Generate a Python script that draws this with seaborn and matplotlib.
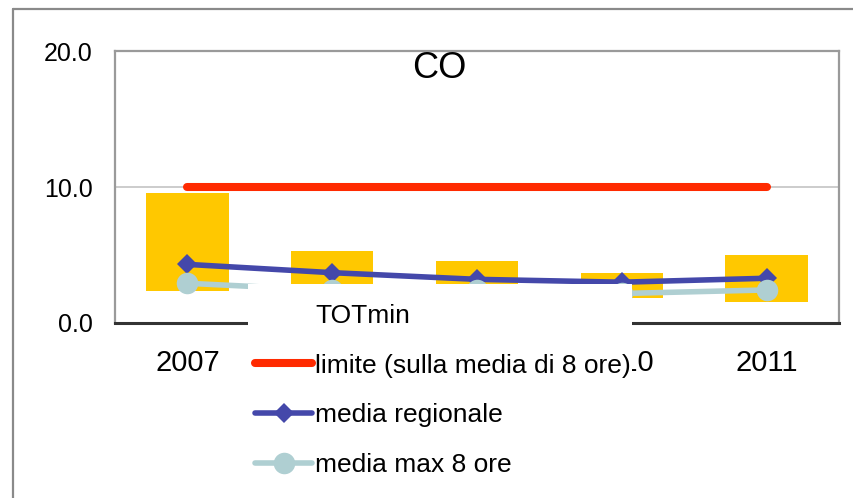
import numpy as np
import pandas as pd
import matplotlib
matplotlib.use("Agg")
import matplotlib.pyplot as plt
import seaborn as sns
from matplotlib.patches import Patch, Rectangle
from matplotlib.lines import Line2D

# dati (CO, mg/m3)
anni = ["2007", "2008", "2009", "2010", "2011"]
tot_min = [2.37, 2.5, 2.4, 1.86, 1.54]
tot_max = [9.56, 5.27, 4.58, 3.65, 5.0]
limite = [10.0, 10.0, 10.0, 10.0, 10.0]
media_regionale = [4.31, 3.70, 3.21, 3.0, 3.29]
media_max_8ore = [2.92, 2.4, 2.4, 2.17, 2.43]

oro = "#FFC800"
rosso = "#FF2A00"
blu = "#4448AA"
azzurro = "#AFCFD2"

sns.set_style("white")
plt.rcParams["font.family"] = ["Liberation Sans", "DejaVu Sans"]
plt.rcParams["text.color"] = "black"
plt.rcParams["xtick.color"] = "black"
plt.rcParams["ytick.color"] = "black"

dati = pd.DataFrame({"anno": anni, "min": tot_min, "max": tot_max})
dati["range"] = dati["max"] - dati["min"]

fig = plt.figure(figsize=(8.54, 4.98), dpi=100)
ax = fig.add_axes([115/854, 1-323/498, (839-115)/854, (323-51)/498])

# barre fluttuanti min-max
sns.barplot(data=dati, x="anno", y="range", bottom=dati["min"].values, color=oro,
            saturation=1, width=0.57, linewidth=0, ax=ax, zorder=2)

sns.pointplot(x=anni, y=limite, color=rosso, marker="", linewidth=5.8,
              solid_capstyle="round", errorbar=None, ax=ax, zorder=3)
sns.pointplot(x=anni, y=media_regionale, color=blu, marker="D", markersize=10.5,
              markeredgewidth=0, linewidth=4, errorbar=None, ax=ax, zorder=4)
sns.pointplot(x=anni, y=media_max_8ore, color=azzurro, marker="o", markersize=15.5,
              markeredgewidth=0, linewidth=4, errorbar=None, ax=ax, zorder=5)

ax.set_ylim(0, 20)
ax.set_yticks([0, 10, 20])
ax.set_yticklabels(["0.0", "10.0", "20.0"])
ax.set_xlim(-0.5, 4.5)
ax.set_xlabel("")
ax.set_ylabel("")
ax.yaxis.grid(True, color="#c8c8c8", linewidth=1.3, zorder=0)
ax.set_axisbelow(True)
ax.tick_params(axis="x", length=0, pad=19, labelsize=21, labelcolor="black")
ax.tick_params(axis="y", length=0, pad=16, labelsize=18, labelcolor="black")
for lato in ["left", "top", "right"]:
    ax.spines[lato].set_color("#9a9a9a")
    ax.spines[lato].set_linewidth(1.6)
ax.spines["bottom"].set_color("#333333")
ax.spines["bottom"].set_linewidth(2.2)

fig.text(439/854, 1-68/498, "CO", ha="center", va="center", fontsize=26, color="black")

# cornice esterna
fig.add_artist(Line2D([13/854, 13/854], [0, 1-9/498], color="#8a8a8a", lw=1.6))
fig.add_artist(Line2D([13/854, 1], [1-9/498, 1-9/498], color="#8a8a8a", lw=1.6))

# box bianco della legenda
box = Rectangle((248/854, 0), (632-248)/854, (498-284)/498, transform=fig.transFigure,
                facecolor="white", edgecolor="none", zorder=10)
fig.add_artist(box)

handles = [
    Patch(facecolor="none", edgecolor="none"),
    Line2D([], [], color=rosso, lw=5.8, solid_capstyle="round"),
    Line2D([], [], color=blu, lw=4, marker="D", markersize=10.5, markeredgewidth=0),
    Line2D([], [], color=azzurro, lw=4, marker="o", markersize=15.5, markeredgewidth=0),
]
etichette = ["TOTmin", "limite (sulla media di 8 ore)", "media regionale", "media max 8 ore"]
leg = fig.legend(handles, etichette, loc="upper left", bbox_to_anchor=(255/854, 1-304/498),
                 frameon=False, fontsize=19, borderpad=0, borderaxespad=0,
                 handlelength=2.16, handletextpad=0.12, labelspacing=0.97)
for t in leg.get_texts():
    t.set_color("black")
leg.set_zorder(11)

fig.savefig("out.png", dpi=100)
